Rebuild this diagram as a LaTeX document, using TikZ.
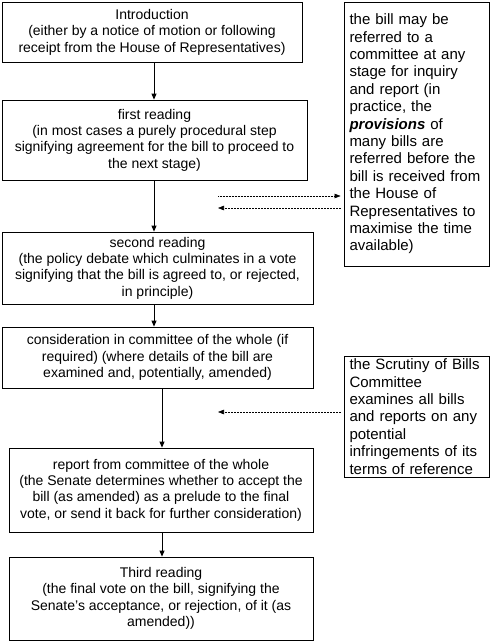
\documentclass[tikz,border=0pt]{standalone}
\usepackage{fontspec}
\setmainfont{Liberation Sans}
\usetikzlibrary{arrows.meta}
\begin{document}
\begin{tikzpicture}[x=1pt,y=-1pt,
  stage/.style={draw, line width=0.8pt, align=center, inner sep=0pt,
    font=\fontsize{14}{16.4}\selectfont},
  note/.style={draw, line width=0.8pt, align=left, inner xsep=5.5pt, inner ysep=0pt,
    text width=134pt, font=\fontsize{15}{17.4}\selectfont},
  arr/.style={line width=0.8pt, -{Triangle[length=6pt,width=5pt]}},
  dotarr/.style={line width=0.6pt, dash pattern=on 0.6pt off 0.9pt,
    -{Triangle[length=6pt,width=4.5pt]}}]
\useasboundingbox (0,0) rectangle (490,641);

\node[stage, minimum width=300pt, minimum height=60pt] (intro) at (152,32)
  {Introduction\\(either by a notice of motion or following\\receipt from the House of Representatives)};
\node[stage, minimum width=305pt, minimum height=80pt] (first) at (154.5,140)
  {first reading\\(in most cases a purely procedural step\\signifying agreement for the bill to proceed to\\the next stage)};
\node[stage, minimum width=311pt, minimum height=72pt] (second) at (157.5,268)
  {second reading\\(the policy debate which culminates in a vote\\signifying that the bill is agreed to, or rejected,\\in principle)};
\node[stage, minimum width=311pt, minimum height=61pt] (consid) at (157.5,357.5)
  {consideration in committee of the whole (if\\required) (where details of the bill are\\examined and, potentially, amended)};
\node[stage, minimum width=304pt, minimum height=84pt] (report) at (161,490)
  {report from committee of the whole\\(the Senate determines whether to accept the\\bill (as amended) as a prelude to the final\\vote, or send it back for further consideration)};
\node[stage, minimum width=304pt, minimum height=83pt] (third) at (161,598.5)
  {Third reading\\(the final vote on the bill, signifying the\\Senate’s acceptance, or rejection, of it (as\\amended))};

\node[note, minimum height=264pt] (note1) at (416.5,134)
  {the bill may be\\referred to a\\committee at any\\stage for inquiry\\and report (in\\practice, the\\\textbf{\textit{provisions}} of\\many bills are\\referred before the\\bill is received from\\the House of\\Representatives to\\maximise the time\\available)};
\node[note, minimum height=121pt] (note2) at (416.5,416.5)
  {the Scrutiny of Bills\\Committee\\examines all bills\\and reports on any\\potential\\infringements of its\\terms of reference};

\coordinate (colA) at (154,0);
\coordinate (colB) at (162,0);
\draw[arr] (colA |- intro.south) -- (colA |- first.north);
\draw[arr] (colA |- first.south) -- (colA |- second.north);
\draw[arr] (colA |- second.south) -- (colA |- consid.north);
\draw[arr] (colB |- consid.south) -- (colB |- report.north);
\draw[arr] (colB |- report.south) -- (colB |- third.north);

\coordinate (p1) at (218,196);
\coordinate (p2) at (218,208);
\coordinate (p3) at (218,412);
\draw[dotarr, shorten >=3pt] (p1) -- (p1 -| note1.west);
\draw[dotarr, shorten <=3pt] (p2 -| note1.west) -- (p2);
\draw[dotarr, shorten <=3pt] (p3 -| note2.west) -- (p3);
\end{tikzpicture}
\end{document}
